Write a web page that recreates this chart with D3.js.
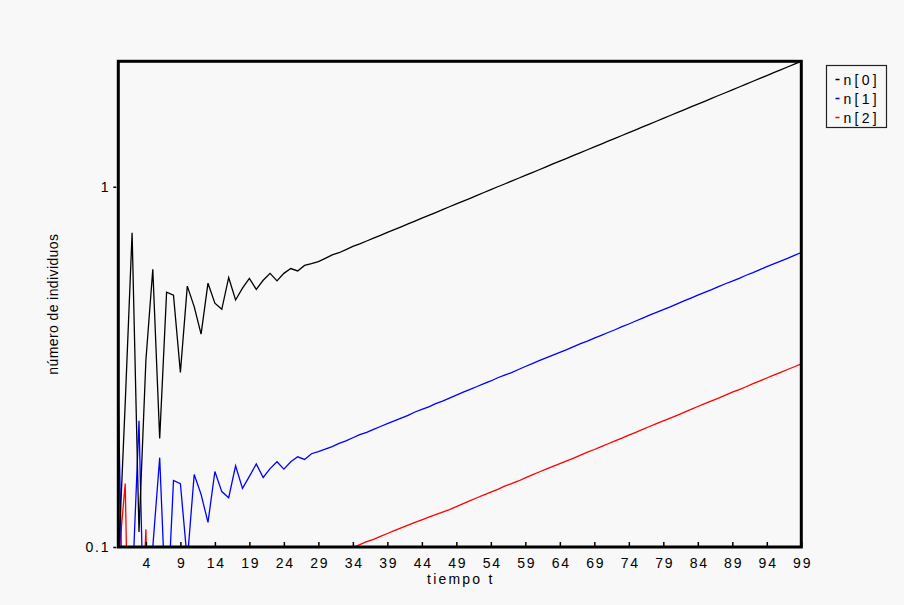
<!DOCTYPE html>
<html>
<head>
<meta charset="utf-8">
<style>
  body { margin: 0; background: #f8f8f8; }
  text { font-family: "Liberation Sans", Arial, sans-serif; font-size: 14px; fill: #000; }
  .frame { fill: none; stroke: #000; stroke-width: 3; }
  .serie { fill: none; stroke-width: 1.3; }
</style>
<script src="https://d3js.org/d3.v7.min.js"></script>
</head>
<body>
<div id="chart-container"></div>
<script>
// tiempo t = 0 .. 99
const tiempo = d3.range(0, 100);

const n0 = [
  0.09, 0.25, 0.745, 0.11, 0.33, 0.59, 0.20, 0.51, 0.50, 0.305,
  0.53, 0.465, 0.39, 0.54, 0.475, 0.457, 0.56, 0.485, 0.523, 0.557,
  0.519, 0.55, 0.575, 0.548, 0.575, 0.593, 0.584, 0.605, 0.612, 0.620,
  0.633, 0.647, 0.656, 0.669, 0.683, 0.694, 0.707, 0.720, 0.733, 0.747,
  0.760, 0.774, 0.789, 0.803, 0.818, 0.833, 0.848, 0.864, 0.880, 0.896,
  0.912, 0.929, 0.946, 0.964, 0.982, 1.000, 1.018, 1.037, 1.056, 1.075,
  1.095, 1.115, 1.136, 1.157, 1.178, 1.199, 1.222, 1.244, 1.267, 1.290,
  1.314, 1.338, 1.363, 1.388, 1.413, 1.439, 1.466, 1.493, 1.520, 1.548,
  1.577, 1.606, 1.635, 1.666, 1.696, 1.727, 1.759, 1.792, 1.824, 1.858,
  1.892, 1.927, 1.963, 1.999, 2.036, 2.073, 2.111, 2.150, 2.190, 2.230
];

const n1 = [
  0.26, 0.027, 0.075, 0.224, 0.033, 0.10, 0.177, 0.06, 0.153, 0.15,
  0.0915, 0.159, 0.14, 0.117, 0.162, 0.1425, 0.137, 0.168, 0.1455, 0.157,
  0.17, 0.156, 0.165, 0.1725, 0.1645, 0.1725, 0.178, 0.175, 0.1815, 0.184,
  0.187, 0.190, 0.194, 0.197, 0.201, 0.205, 0.208, 0.212, 0.216, 0.220,
  0.224, 0.228, 0.232, 0.237, 0.241, 0.245, 0.250, 0.254, 0.259, 0.264,
  0.269, 0.274, 0.279, 0.284, 0.289, 0.295, 0.300, 0.305, 0.311, 0.317,
  0.323, 0.329, 0.335, 0.341, 0.347, 0.353, 0.360, 0.367, 0.373, 0.380,
  0.387, 0.394, 0.401, 0.409, 0.416, 0.424, 0.432, 0.440, 0.448, 0.456,
  0.464, 0.473, 0.482, 0.491, 0.500, 0.509, 0.518, 0.528, 0.538, 0.547,
  0.557, 0.568, 0.578, 0.589, 0.600, 0.611, 0.622, 0.633, 0.645, 0.657
];

const n2 = [
  0.09, 0.15, 0.015, 0.0375, 0.112, 0.0165, 0.05, 0.0885, 0.03, 0.0765,
  0.075, 0.046, 0.0795, 0.07, 0.0585, 0.081, 0.071, 0.0685, 0.084, 0.073,
  0.0785, 0.085, 0.078, 0.0825, 0.086, 0.082, 0.086, 0.089, 0.0875, 0.091,
  0.092, 0.0935, 0.095, 0.097, 0.0995, 0.1015, 0.1035, 0.105, 0.107, 0.109,
  0.111, 0.113, 0.115, 0.117, 0.119, 0.121, 0.123, 0.125, 0.127, 0.1295,
  0.132, 0.1345, 0.137, 0.1395, 0.142, 0.1445, 0.1475, 0.150, 0.1525, 0.1555,
  0.1585, 0.1615, 0.1645, 0.1675, 0.1705, 0.1735, 0.1765, 0.180, 0.1835, 0.1865,
  0.190, 0.1935, 0.197, 0.2005, 0.2045, 0.208, 0.212, 0.216, 0.220, 0.224,
  0.228, 0.232, 0.2365, 0.241, 0.2455, 0.250, 0.2545, 0.259, 0.264, 0.269,
  0.2735, 0.2785, 0.284, 0.289, 0.2945, 0.300, 0.3055, 0.311, 0.3165, 0.3225
];

const seriesNames = ["n[0]", "n[1]", "n[2]"];
const seriesColors = ["#000000", "#0000ff", "#ff0000"];
const xTickValues = [4, 9, 14, 19, 24, 29, 34, 39, 44, 49, 54, 59, 64, 69, 74, 79, 84, 89, 94, 99];
const yTickValues = [0.1, 1];
const yTickLabels = ["0.1", "1"];

function renderChart() {
  const width = 904;
  const height = 605;
  const plot = { left: 118.3, top: 61.3, right: 801.3, bottom: 547 };

  const svg = d3.select("#chart-container").append("svg")
    .attr("width", width)
    .attr("height", height);

  svg.append("rect")
    .attr("width", width)
    .attr("height", height)
    .attr("fill", "#f8f8f8");

  const xScale = d3.scaleLinear()
    .domain([0, 99])
    .range([plot.left, plot.right]);

  const yScale = d3.scaleLog()
    .domain([0.1, 2.23])
    .range([plot.bottom, plot.top]);

  svg.append("clipPath")
    .attr("id", "clip")
    .append("rect")
    .attr("x", plot.left)
    .attr("y", plot.top)
    .attr("width", plot.right - plot.left)
    .attr("height", plot.bottom - plot.top);

  const line = d3.line()
    .x((d, i) => xScale(tiempo[i]))
    .y(d => yScale(d));

  // red first so black ends on top
  const series = [n0, n1, n2];
  [2, 1, 0].forEach(k => {
    svg.append("path")
      .datum(series[k])
      .attr("class", "serie")
      .attr("clip-path", "url(#clip)")
      .attr("stroke", seriesColors[k])
      .attr("d", line);
  });

  // x axis: inward ticks, labels below
  const xAxis = d3.axisBottom(xScale)
    .tickValues(xTickValues)
    .tickSize(-5)
    .tickPadding(11)
    .tickFormat(d3.format("d"));

  const gx = svg.append("g")
    .attr("transform", `translate(0,${plot.bottom})`)
    .call(xAxis);
  gx.select(".domain").remove();
  gx.selectAll("line").attr("stroke", "#000").attr("stroke-width", 1.5);
  gx.selectAll("text")
    .attr("font-family", null)
    .attr("font-size", null)
    .attr("dx", "0.9px")
    .style("letter-spacing", "1.8px");

  const yAxis = d3.axisLeft(yScale)
    .tickValues(yTickValues)
    .tickSize(3)
    .tickPadding(3)
    .tickFormat((d, i) => yTickLabels[i]);

  const gy = svg.append("g")
    .attr("transform", `translate(${plot.left - 2},0)`)
    .call(yAxis);
  gy.select(".domain").remove();
  gy.selectAll("line").attr("stroke", "#000").attr("stroke-width", 1.5);
  gy.selectAll("text")
    .attr("font-family", null)
    .attr("font-size", null)
    .style("letter-spacing", "1.8px");

  svg.append("rect")
    .attr("class", "frame")
    .attr("x", plot.left)
    .attr("y", plot.top)
    .attr("width", plot.right - plot.left)
    .attr("height", plot.bottom - plot.top);

  svg.append("text")
    .attr("x", (plot.left + plot.right) / 2 + 1)
    .attr("y", 584)
    .attr("text-anchor", "middle")
    .style("letter-spacing", "2.2px")
    .text("tiempo t");

  svg.append("text")
    .attr("transform", `translate(58,${(plot.top + plot.bottom) / 2}) rotate(-90)`)
    .attr("text-anchor", "middle")
    .style("letter-spacing", "0.4px")
    .text("número de individuos");

  // legend
  const legend = svg.append("g").attr("transform", "translate(826.5,65.5)");
  legend.append("rect")
    .attr("width", 60)
    .attr("height", 62)
    .attr("fill", "none")
    .attr("stroke", "#222")
    .attr("stroke-width", 1.2);

  seriesNames.forEach((name, i) => {
    const y = 14 + i * 19;
    legend.append("line")
      .attr("x1", 9).attr("x2", 13)
      .attr("y1", y).attr("y2", y)
      .attr("stroke", seriesColors[i])
      .attr("stroke-width", 1.5);
    legend.append("text")
      .attr("x", 17)
      .attr("y", y + 5)
      .style("letter-spacing", "3.3px")
      .text(name);
  });
}

renderChart();
</script>
</body>
</html>
